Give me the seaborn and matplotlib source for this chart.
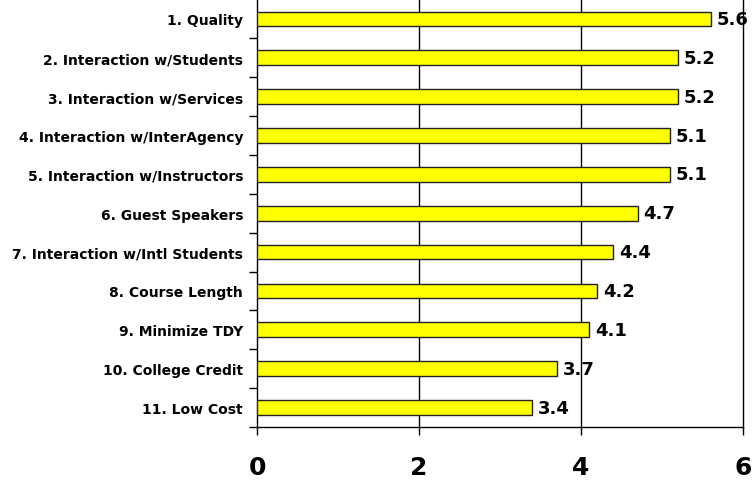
import matplotlib
matplotlib.use("Agg")
import matplotlib.pyplot as plt
import numpy as np
import pandas as pd
import seaborn as sns

categories = [
    "1. Quality",
    "2. Interaction w/Students",
    "3. Interaction w/Services",
    "4. Interaction w/InterAgency",
    "5. Interaction w/Instructors",
    "6. Guest Speakers",
    "7. Interaction w/Intl Students",
    "8. Course Length",
    "9. Minimize TDY",
    "10. College Credit",
    "11. Low Cost",
]
scores = [5.6, 5.2, 5.2, 5.1, 5.1, 4.7, 4.4, 4.2, 4.1, 3.7, 3.4]
x_ticks = [0, 2, 4, 6]

df = pd.DataFrame({"category": categories, "score": scores})

sns.set_style("white")
plt.rcParams["font.family"] = ["DejaVu Sans"]
plt.rcParams["text.color"] = "black"
plt.rcParams["xtick.color"] = "black"
plt.rcParams["ytick.color"] = "black"

fig = plt.figure(figsize=(7.52, 4.81), dpi=100)
ax = fig.add_axes([257 / 752, 1 - 428 / 481, (743 - 257) / 752, 428 / 481 - 0.001])

sns.barplot(data=df, x="score", y="category", orient="h", color="#FFFF00",
            saturation=1, width=0.38, edgecolor="#222222", linewidth=1, ax=ax,
            zorder=3)

ax.set_xlim(0, 6)
ax.set_ylim(len(categories) - 0.5, -0.5)
ax.set_xticks(x_ticks)
ax.set_xticklabels([str(t) for t in x_ticks], fontsize=18, fontweight="bold",
                   color="black")
ax.tick_params(axis="x", length=6, width=1, color="black", pad=14, bottom=True)

# category labels on major ticks, tick marks on the boundaries between rows
ax.tick_params(axis="y", which="major", length=0, pad=10)
ax.set_yticks(np.arange(len(categories)) + 0.5, minor=True)
ax.tick_params(axis="y", which="minor", length=6, width=1, color="black", left=True)
for lbl in ax.get_yticklabels():
    lbl.set_fontsize(10)
    lbl.set_fontweight("bold")
    lbl.set_color("black")

ax.set_xlabel("")
ax.set_ylabel("")

for x in x_ticks[1:-1]:
    ax.axvline(x, color="black", linewidth=1, zorder=1)

for s in ax.spines.values():
    s.set_visible(True)
    s.set_color("black")
    s.set_linewidth(1)
ax.spines["top"].set_visible(False)

for i, v in enumerate(scores):
    ax.text(v + 0.07, i, f"{v:.1f}", va="center", ha="left", color="black",
            fontsize=13, fontweight="bold", zorder=4, clip_on=False)

fig.savefig("out.png", dpi=100)
